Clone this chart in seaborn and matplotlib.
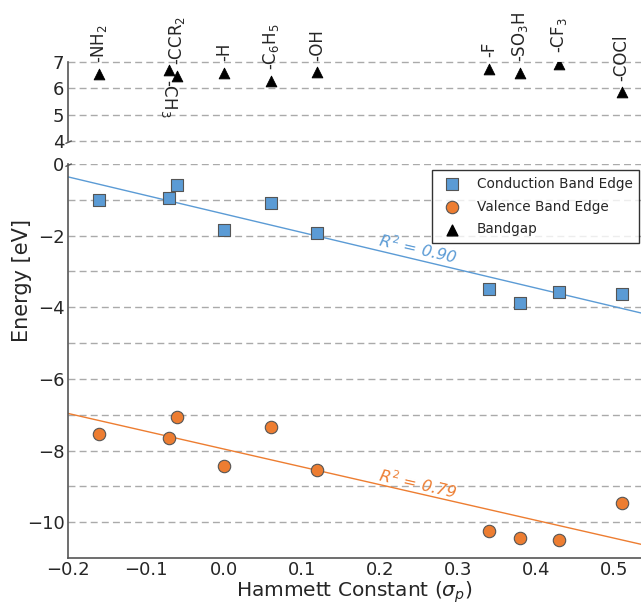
import numpy as np
import pandas as pd
import matplotlib
matplotlib.use("Agg")
import matplotlib.pyplot as plt
import seaborn as sns
from matplotlib.ticker import MultipleLocator

# substituent data
groups = ['-NH$_2$', '-CH$_3$', '-CCR$_2$', '-H', '-C$_6$H$_5$', '-OH',
          '-F', '-SO$_3$H', '-CF$_3$', '-COCl']
sigma_p = [-0.16, -0.07, -0.06, 0.00, 0.06, 0.12, 0.34, 0.38, 0.43, 0.51]
cb_edge = [-1.00, -0.95, -0.60, -1.84, -1.08, -1.92, -3.50, -3.87, -3.57, -3.62]
vb_edge = [-7.55, -7.66, -7.07, -8.44, -7.35, -8.55, -10.25, -10.45, -10.50, -9.47]
bandgap = [6.55, 6.71, 6.47, 6.60, 6.27, 6.63, 6.75, 6.58, 6.93, 5.85]
r2_cb = '0.90'
r2_vb = '0.79'

df = pd.DataFrame({'group': groups, 'sigma': sigma_p, 'cb': cb_edge,
                   'vb': vb_edge, 'gap': bandgap})

sns.set_style("white")
plt.rcParams['font.family'] = ['DejaVu Sans']

blue = '#5B9BD5'
orange = '#ED7D31'
grid_kw = dict(color='#aaaaaa', linestyle='--', linewidth=1.0, dashes=(5, 3))

fig = plt.figure(figsize=(6.41, 6.04), dpi=100)
ax_top = fig.add_axes([0.106, 0.7666, 0.894, 0.1308])
ax = fig.add_axes([0.106, 0.0762, 0.894, 0.6523])

xlim = (-0.2, 0.535)

# --- bottom panel: band edges ---
sns.scatterplot(data=df, x='sigma', y='cb', ax=ax, marker='s', s=68,
                color=blue, edgecolor='#555555', linewidth=0.8,
                label='Conduction Band Edge', zorder=3)
sns.scatterplot(data=df, x='sigma', y='vb', ax=ax, marker='o', s=80,
                color=orange, edgecolor='#555555', linewidth=0.8,
                label='Valence Band Edge', zorder=3)
# proxy for the bandgap legend entry
ax.scatter([], [], marker='^', s=60, color='black', label='Bandgap')

xs = np.linspace(xlim[0], xlim[1], 50)
for col, c in [('cb', blue), ('vb', orange)]:
    k, b = np.polyfit(df['sigma'], df[col], 1)
    ax.plot(xs, k * xs + b, color=c, linewidth=1.0, zorder=2)

ax.text(0.249, -2.38, '$R^2$ = ' + r2_cb, color=blue, fontsize=11.5,
        style='italic', rotation=-13, ha='center', va='center')
ax.text(0.249, -8.94, '$R^2$ = ' + r2_vb, color=orange, fontsize=11.5,
        style='italic', rotation=-13, ha='center', va='center')

ax.set_xlim(xlim)
ax.set_ylim(-11, 0)
ax.yaxis.set_major_locator(MultipleLocator(2))
ax.yaxis.set_minor_locator(MultipleLocator(1))
ax.xaxis.set_major_locator(MultipleLocator(0.1))
ax.grid(False)
for yv in range(-10, 1):
    ax.axhline(yv, zorder=0, **grid_kw)
ax.set_xlabel('Hammett Constant ($\\sigma_p$)', fontsize=14.5, labelpad=0)
ax.set_ylabel('')
ax.tick_params(axis='both', labelsize=13, length=3, direction='in',
               color='#888888', pad=2.5)
ax.tick_params(axis='y', which='minor', length=0)
for side in ['top', 'right']:
    ax.spines[side].set_visible(False)
for side in ['left', 'bottom']:
    ax.spines[side].set_color('#555555')
    ax.spines[side].set_linewidth(1.2)

leg = ax.legend(loc='upper right', fontsize=9.8, frameon=True, fancybox=False,
                edgecolor='black', handletextpad=0.8, borderpad=0.5,
                labelspacing=0.65, borderaxespad=0,
                bbox_to_anchor=(0.997, 0.985))
leg.get_frame().set_linewidth(1.0)

# --- top panel: bandgaps ---
sns.scatterplot(data=df, x='sigma', y='gap', ax=ax_top, marker='^', s=60,
                color='black', edgecolor='black', zorder=3, legend=False)
ax_top.set_xlim(xlim)
ax_top.set_ylim(4, 7)
ax_top.set_yticks([4, 5, 6, 7])
for yv in [4, 5, 6, 7]:
    ax_top.axhline(yv, zorder=0, clip_on=False, **grid_kw)
ax_top.set_xticks([])
ax_top.set_xlabel('')
ax_top.set_ylabel('')
ax_top.tick_params(axis='y', labelsize=13, length=3, direction='in',
                   color='#888888', pad=2.5)
for side in ['top', 'right', 'bottom']:
    ax_top.spines[side].set_visible(False)
ax_top.spines['left'].set_color('#555555')
ax_top.spines['left'].set_linewidth(1.2)

for _, row in df.iterrows():
    if row['group'] == '-CH$_3$':
        ax_top.annotate(row['group'], (row['sigma'], row['gap']),
                        xytext=(0, -7), textcoords='offset points',
                        rotation=-90, ha='center', va='top', fontsize=12,
                        annotation_clip=False)
    else:
        ax_top.annotate(row['group'], (row['sigma'], row['gap']),
                        xytext=(0, 8), textcoords='offset points',
                        rotation=90, ha='center', va='bottom', fontsize=12,
                        annotation_clip=False)

# broken-axis marks
d = 0.012
kw = dict(color='#555555', linewidth=1.0, clip_on=False)
ax_top.plot([-d * 0.3, d * 0.5], [-0.03, 0.0], transform=ax_top.transAxes, **kw)
ax.plot([-d * 0.3, d * 0.5], [0.994, 1.0], transform=ax.transAxes, **kw)

fig.text(0.034, 0.535, 'Energy [eV]', rotation=90, fontsize=15,
         ha='center', va='center')

fig.savefig('out.png', dpi=100)
